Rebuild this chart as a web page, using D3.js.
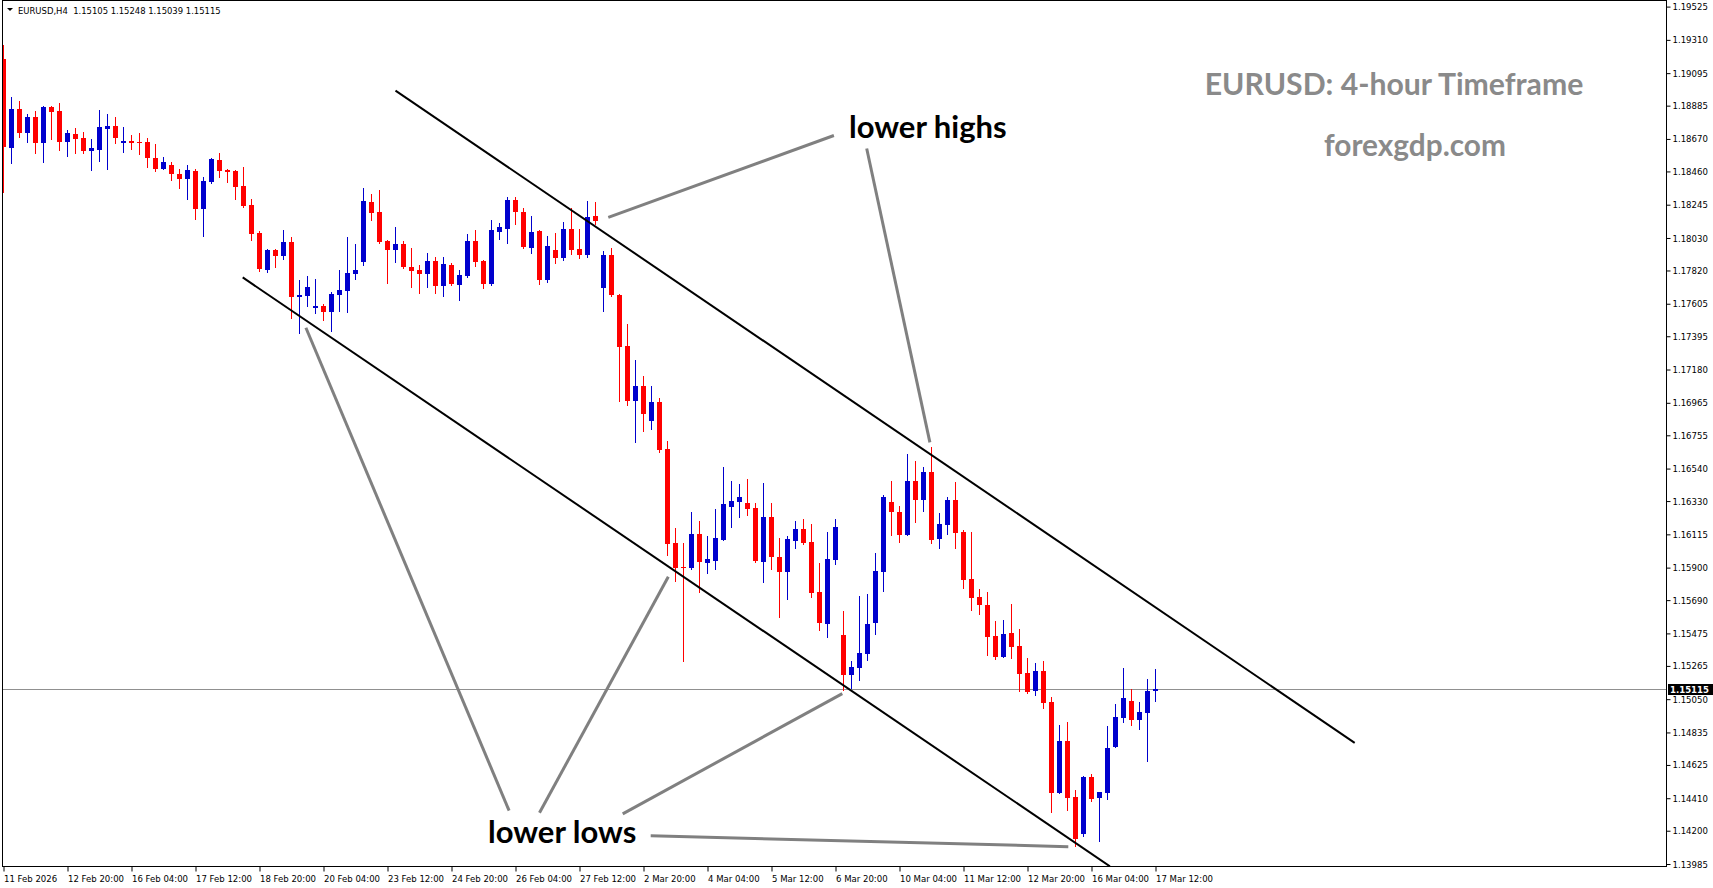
<!DOCTYPE html>
<html>
<head>
<meta charset="utf-8">
<script src="https://cdn.jsdelivr.net/npm/d3@7"></script>
<style>
  html, body { margin: 0; padding: 0; background: #fff; overflow: hidden; }
  svg { display: block; }
  .axis text { font-family: "DejaVu Sans Condensed", "Liberation Sans", sans-serif; font-size: 9.5px; fill: #000; }
  .axis line { stroke: #000; }
</style>
</head>
<body>
<script>
// EURUSD H4 bars, oldest first
const openP = [
  1.19186,1.18613,1.18863,1.18710,1.18812,1.18646,1.18876,1.18850,1.18652,1.18702,
  1.18676,1.18594,1.18600,1.18736,1.18754,1.18646,1.18657,1.18652,1.18650,1.18547,
  1.18478,1.18502,1.18443,1.18413,1.18463,1.18219,1.18394,1.18534,1.18469,1.18463,
  1.18366,1.18243,1.18062,1.17826,1.17952,1.17916,1.18004,1.17651,1.17657,1.17580,
  1.17590,1.17554,1.17664,1.17689,1.17797,1.17877,1.18262,1.18198,1.18012,1.17954,
  1.17991,1.17842,1.17823,1.17799,1.17883,1.17722,1.17855,1.17728,1.17784,1.18011,
  1.17881,1.17735,1.18071,1.18090,1.18275,1.18198,1.17967,1.18075,1.17760,1.17952,
  1.17903,1.18088,1.17959,1.17922,1.18172,1.17709,1.17920,1.17664,1.17332,1.16979,
  1.17074,1.16849,1.16970,1.16667,1.16059,1.15904,1.15900,1.16117,1.15932,1.15945,
  1.16080,1.16294,1.16326,1.16318,1.16285,1.15938,1.16227,1.15969,1.15874,1.16074,
  1.16150,1.16066,1.15743,1.15538,1.15951,1.15465,1.15204,1.15252,1.15344,1.15544,
  1.15874,1.16324,1.16260,1.16113,1.16460,1.16339,1.16518,1.16087,1.16177,1.16337,
  1.16130,1.15827,1.15712,1.15661,1.15460,1.15325,1.15480,1.15396,1.15221,1.15105,
  1.15232,1.15032,1.14446,1.14780,1.14418,1.14181,1.14549,1.14414,1.14446,1.14743,
  1.14930,1.15038,1.14918,1.14963,1.15105
];
const highP = [
  1.19277,1.18943,1.18915,1.18833,1.18850,1.18883,1.18880,1.18902,1.18728,1.18741,
  1.18715,1.18670,1.18857,1.18831,1.18812,1.18747,1.18695,1.18708,1.18676,1.18637,
  1.18553,1.18521,1.18478,1.18502,1.18476,1.18424,1.18547,1.18579,1.18476,1.18469,
  1.18489,1.18282,1.18075,1.17959,1.17959,1.18082,1.18036,1.17759,1.17784,1.17765,
  1.17603,1.17681,1.17823,1.18036,1.17991,1.18353,1.18314,1.18340,1.18019,1.18101,
  1.18011,1.17965,1.17855,1.17933,1.17909,1.17907,1.17868,1.17825,1.18056,1.18082,
  1.17890,1.18146,1.18127,1.18295,1.18295,1.18224,1.18172,1.18082,1.18043,1.18062,
  1.18133,1.18224,1.18088,1.18269,1.18262,1.17946,1.17967,1.17668,1.17474,1.17242,
  1.17138,1.17074,1.16996,1.16718,1.16156,1.16059,1.16260,1.16201,1.16106,1.16279,
  1.16550,1.16460,1.16440,1.16473,1.16318,1.16447,1.16318,1.16091,1.16105,1.16201,
  1.16214,1.16182,1.15930,1.16130,1.16214,1.15620,1.15297,1.15719,1.15730,1.15995,
  1.16369,1.16460,1.16298,1.16634,1.16589,1.16550,1.16680,1.16253,1.16356,1.16453,
  1.16143,1.16130,1.15764,1.15743,1.15557,1.15562,1.15667,1.15504,1.15316,1.15284,
  1.15297,1.15064,1.14883,1.14903,1.14463,1.14556,1.14569,1.14450,1.14877,1.15019,
  1.15252,1.15116,1.15032,1.15180,1.15248
];
const lowP = [
  1.18329,1.18513,1.18684,1.18652,1.18581,1.18523,1.18670,1.18599,1.18562,1.18581,
  1.18581,1.18471,1.18529,1.18478,1.18646,1.18588,1.18607,1.18575,1.18491,1.18465,
  1.18478,1.18407,1.18355,1.18284,1.18155,1.18045,1.18387,1.18426,1.18394,1.18284,
  1.18232,1.18019,1.17819,1.17813,1.17844,1.17896,1.17515,1.17418,1.17592,1.17547,
  1.17502,1.17431,1.17558,1.17554,1.17767,1.17855,1.18146,1.18000,1.17741,1.17877,
  1.17838,1.17715,1.17676,1.17715,1.17676,1.17657,1.17728,1.17631,1.17778,1.17851,
  1.17709,1.17728,1.18025,1.18000,1.18122,1.17967,1.17935,1.17735,1.17748,1.17870,
  1.17888,1.17928,1.17903,1.17909,1.18120,1.17560,1.17655,1.16979,1.16953,1.16714,
  1.16785,1.16798,1.16649,1.15984,1.15816,1.15299,1.15893,1.15745,1.15867,1.15893,
  1.16080,1.16165,1.16229,1.16242,1.15938,1.15809,1.15893,1.15583,1.15699,1.16029,
  1.16055,1.15712,1.15499,1.15454,1.15926,1.15109,1.15122,1.15174,1.15305,1.15473,
  1.15751,1.16113,1.16068,1.16113,1.16197,1.16268,1.16061,1.16029,1.16119,1.16029,
  1.15770,1.15628,1.15602,1.15338,1.15312,1.15325,1.15318,1.15105,1.15092,1.15079,
  1.14995,1.14323,1.14446,1.14336,1.14103,1.14168,1.14394,1.14136,1.14407,1.14743,
  1.14905,1.14885,1.14859,1.14653,1.15039
];
const closeP = [
  1.18620,1.18863,1.18710,1.18812,1.18646,1.18876,1.18846,1.18652,1.18708,1.18672,
  1.18594,1.18611,1.18747,1.18754,1.18678,1.18657,1.18646,1.18646,1.18549,1.18478,
  1.18521,1.18445,1.18413,1.18469,1.18219,1.18398,1.18540,1.18465,1.18458,1.18361,
  1.18239,1.18058,1.17832,1.17952,1.17916,1.18004,1.17651,1.17662,1.17713,1.17590,
  1.17554,1.17668,1.17694,1.17804,1.17823,1.18269,1.18193,1.18006,1.17954,1.17991,
  1.17844,1.17819,1.17799,1.17883,1.17722,1.17862,1.17735,1.17791,1.18011,1.17877,
  1.17735,1.18082,1.18101,1.18275,1.18200,1.17974,1.18069,1.17760,1.17978,1.17903,
  1.18088,1.17954,1.17922,1.18166,1.18142,1.17920,1.17664,1.17328,1.16979,1.17074,
  1.16895,1.16970,1.16662,1.16055,1.15900,1.15896,1.16117,1.15938,1.15956,1.16091,
  1.16311,1.16331,1.16356,1.16281,1.15945,1.16227,1.15971,1.15874,1.16085,1.16150,
  1.16061,1.15738,1.15544,1.15956,1.16163,1.15204,1.15258,1.15349,1.15536,1.15878,
  1.16356,1.16261,1.16113,1.16460,1.16339,1.16518,1.16080,1.16182,1.16337,1.16126,
  1.15822,1.15706,1.15661,1.15454,1.15325,1.15473,1.15389,1.15215,1.15098,1.15234,
  1.15027,1.14446,1.14780,1.14414,1.14149,1.14549,1.14407,1.14450,1.14737,1.14935,
  1.15058,1.14918,1.14967,1.15103,1.15115
];

const timeLabels = ["11 Feb 2026","12 Feb 20:00","16 Feb 04:00","17 Feb 12:00","18 Feb 20:00",
  "20 Feb 04:00","23 Feb 12:00","24 Feb 20:00","26 Feb 04:00","27 Feb 12:00","2 Mar 20:00",
  "4 Mar 04:00","5 Mar 12:00","6 Mar 20:00","10 Mar 04:00","11 Mar 12:00","12 Mar 20:00",
  "16 Mar 04:00","17 Mar 12:00"];
const priceTicks = [1.19525,1.19310,1.19095,1.18885,1.18670,1.18460,1.18245,1.18030,1.17820,
  1.17605,1.17395,1.17180,1.16965,1.16755,1.16540,1.16330,1.16115,1.15900,1.15690,1.15475,
  1.15265,1.15050,1.14835,1.14625,1.14410,1.14200,1.13985];
const lastPrice = 1.15115;

// channel lines and callout lines as [bar index, price]
const channelUpper = [[49.0, 1.18982], [168.9, 1.14768]];
const channelLower = [[29.9, 1.17775], [138.3, 1.13970]];
const highCallouts = [
  [[75.6, 1.18163], [103.8, 1.18692]],
  [[107.9, 1.18608], [115.8, 1.16709]]
];
const lowCallouts = [
  [[63.2, 1.14330], [37.8, 1.17450]],
  [[67.0, 1.14316], [83.1, 1.15841]],
  [[77.4, 1.14309], [104.85, 1.15086]],
  [[80.9, 1.14167], [133.1, 1.14097]]
];

const W = 1713, H = 888;
const plot = {left: 3, right: 1667, top: 1, bottom: 867};

const svg = d3.select("body").append("svg")
  .attr("width", W).attr("height", H);

const x = d3.scaleLinear().domain([0, 144]).range([3.5, 1155.5]);
const y = d3.scaleLinear().domain([1.13985, 1.19525]).range([864, 6.6]);

svg.append("clipPath").attr("id", "plotClip")
  .append("rect")
  .attr("x", plot.left).attr("y", plot.top)
  .attr("width", plot.right - plot.left).attr("height", plot.bottom - plot.top);

const g = svg.append("g").attr("clip-path", "url(#plotClip)");

// last price line
g.append("line")
  .attr("x1", plot.left).attr("x2", plot.right)
  .attr("y1", Math.round(y(lastPrice)) + 0.5).attr("y2", Math.round(y(lastPrice)) + 0.5)
  .attr("stroke", "#909090").attr("stroke-width", 1);

// candles
const bars = d3.range(openP.length);
const colorOf = i => closeP[i] >= openP[i] ? "#0000cd" : "#ff0000";

g.selectAll("line.wick").data(bars).enter().append("line")
  .attr("class", "wick")
  .attr("x1", i => x(i)).attr("x2", i => x(i))
  .attr("y1", i => Math.round(y(highP[i])))
  .attr("y2", i => Math.round(y(lowP[i])) + 1)
  .attr("stroke", colorOf).attr("stroke-width", 1);

g.selectAll("rect.body").data(bars).enter().append("rect")
  .attr("class", "body")
  .attr("x", i => x(i) - 2.5)
  .attr("width", 5)
  .attr("y", i => Math.round(y(Math.max(openP[i], closeP[i]))))
  .attr("height", i => Math.max(1, Math.round(y(Math.min(openP[i], closeP[i]))) - Math.round(y(Math.max(openP[i], closeP[i])))))
  .attr("fill", colorOf);

// trend channel
const line = d3.line().x(d => x(d[0])).y(d => y(d[1]));
[channelUpper, channelLower].forEach(seg => {
  g.append("path").attr("d", line(seg))
    .attr("fill", "none").attr("stroke", "#000").attr("stroke-width", 2);
});

// callout lines
highCallouts.concat(lowCallouts).forEach(seg => {
  g.append("path").attr("d", line(seg))
    .attr("fill", "none").attr("stroke", "#808080").attr("stroke-width", 3);
});

// frame
svg.append("rect")
  .attr("x", plot.left - 0.5).attr("y", plot.top - 0.5)
  .attr("width", plot.right - plot.left).attr("height", plot.bottom - plot.top)
  .attr("fill", "none").attr("stroke", "#000").attr("stroke-width", 1);

// price axis
const yAxis = svg.append("g").attr("class", "axis")
  .attr("transform", `translate(${plot.right - 0.5},0)`)
  .call(d3.axisRight(y).tickValues(priceTicks).tickSize(4).tickPadding(2)
    .tickFormat(d => d.toFixed(5)));
yAxis.select(".domain").remove();

// time axis
const xAxis = svg.append("g").attr("class", "axis")
  .attr("transform", `translate(0,${plot.bottom - 0.5})`)
  .call(d3.axisBottom(x).tickValues(d3.range(0, 145, 8)).tickSize(5).tickPadding(4)
    .tickFormat((d, i) => timeLabels[i]));
xAxis.select(".domain").remove();
xAxis.selectAll("text").attr("text-anchor", "start").attr("x", 0);

// last price tag
const ly = y(lastPrice);
svg.append("rect")
  .attr("x", plot.right + 1).attr("y", Math.round(ly) - 5)
  .attr("width", 45).attr("height", 11).attr("fill", "#000");
svg.append("text")
  .attr("x", plot.right + 3).attr("y", Math.round(ly) + 4)
  .attr("font-family", "\"DejaVu Sans Condensed\", \"Liberation Sans\", sans-serif")
  .attr("font-size", 9.5).attr("font-weight", "bold").attr("fill", "#fff")
  .text(lastPrice.toFixed(5));

// header
svg.append("path").attr("d", "M7,8 L13,8 L10,11 Z").attr("fill", "#000");
svg.append("text")
  .attr("x", 18).attr("y", 14)
  .attr("font-family", "\"DejaVu Sans Condensed\", \"Liberation Sans\", sans-serif")
  .attr("font-size", 9.4).attr("fill", "#000")
  .style("white-space", "pre")
  .text("EURUSD,H4  1.15105 1.15248 1.15039 1.15115");

// titles and annotation labels
const bold = "Lato, 'Open Sans', sans-serif";
svg.append("text").attr("x", 1394).attr("y", 95).attr("text-anchor", "middle")
  .attr("font-family", bold).attr("font-weight", "bold").attr("font-size", 30.2).attr("fill", "#8a8a8a")
  .text("EURUSD: 4-hour Timeframe");
svg.append("text").attr("x", 1415).attr("y", 156).attr("text-anchor", "middle")
  .attr("font-family", bold).attr("font-weight", "bold").attr("font-size", 29.8).attr("fill", "#8a8a8a")
  .text("forexgdp.com");
svg.append("text").attr("x", 849).attr("y", 138)
  .attr("font-family", bold).attr("font-weight", "bold").attr("font-size", 31).attr("fill", "#000")
  .text("lower highs");
svg.append("text").attr("x", 488).attr("y", 843)
  .attr("font-family", bold).attr("font-weight", "bold").attr("font-size", 31).attr("fill", "#000")
  .text("lower lows");
</script>
</body>
</html>
